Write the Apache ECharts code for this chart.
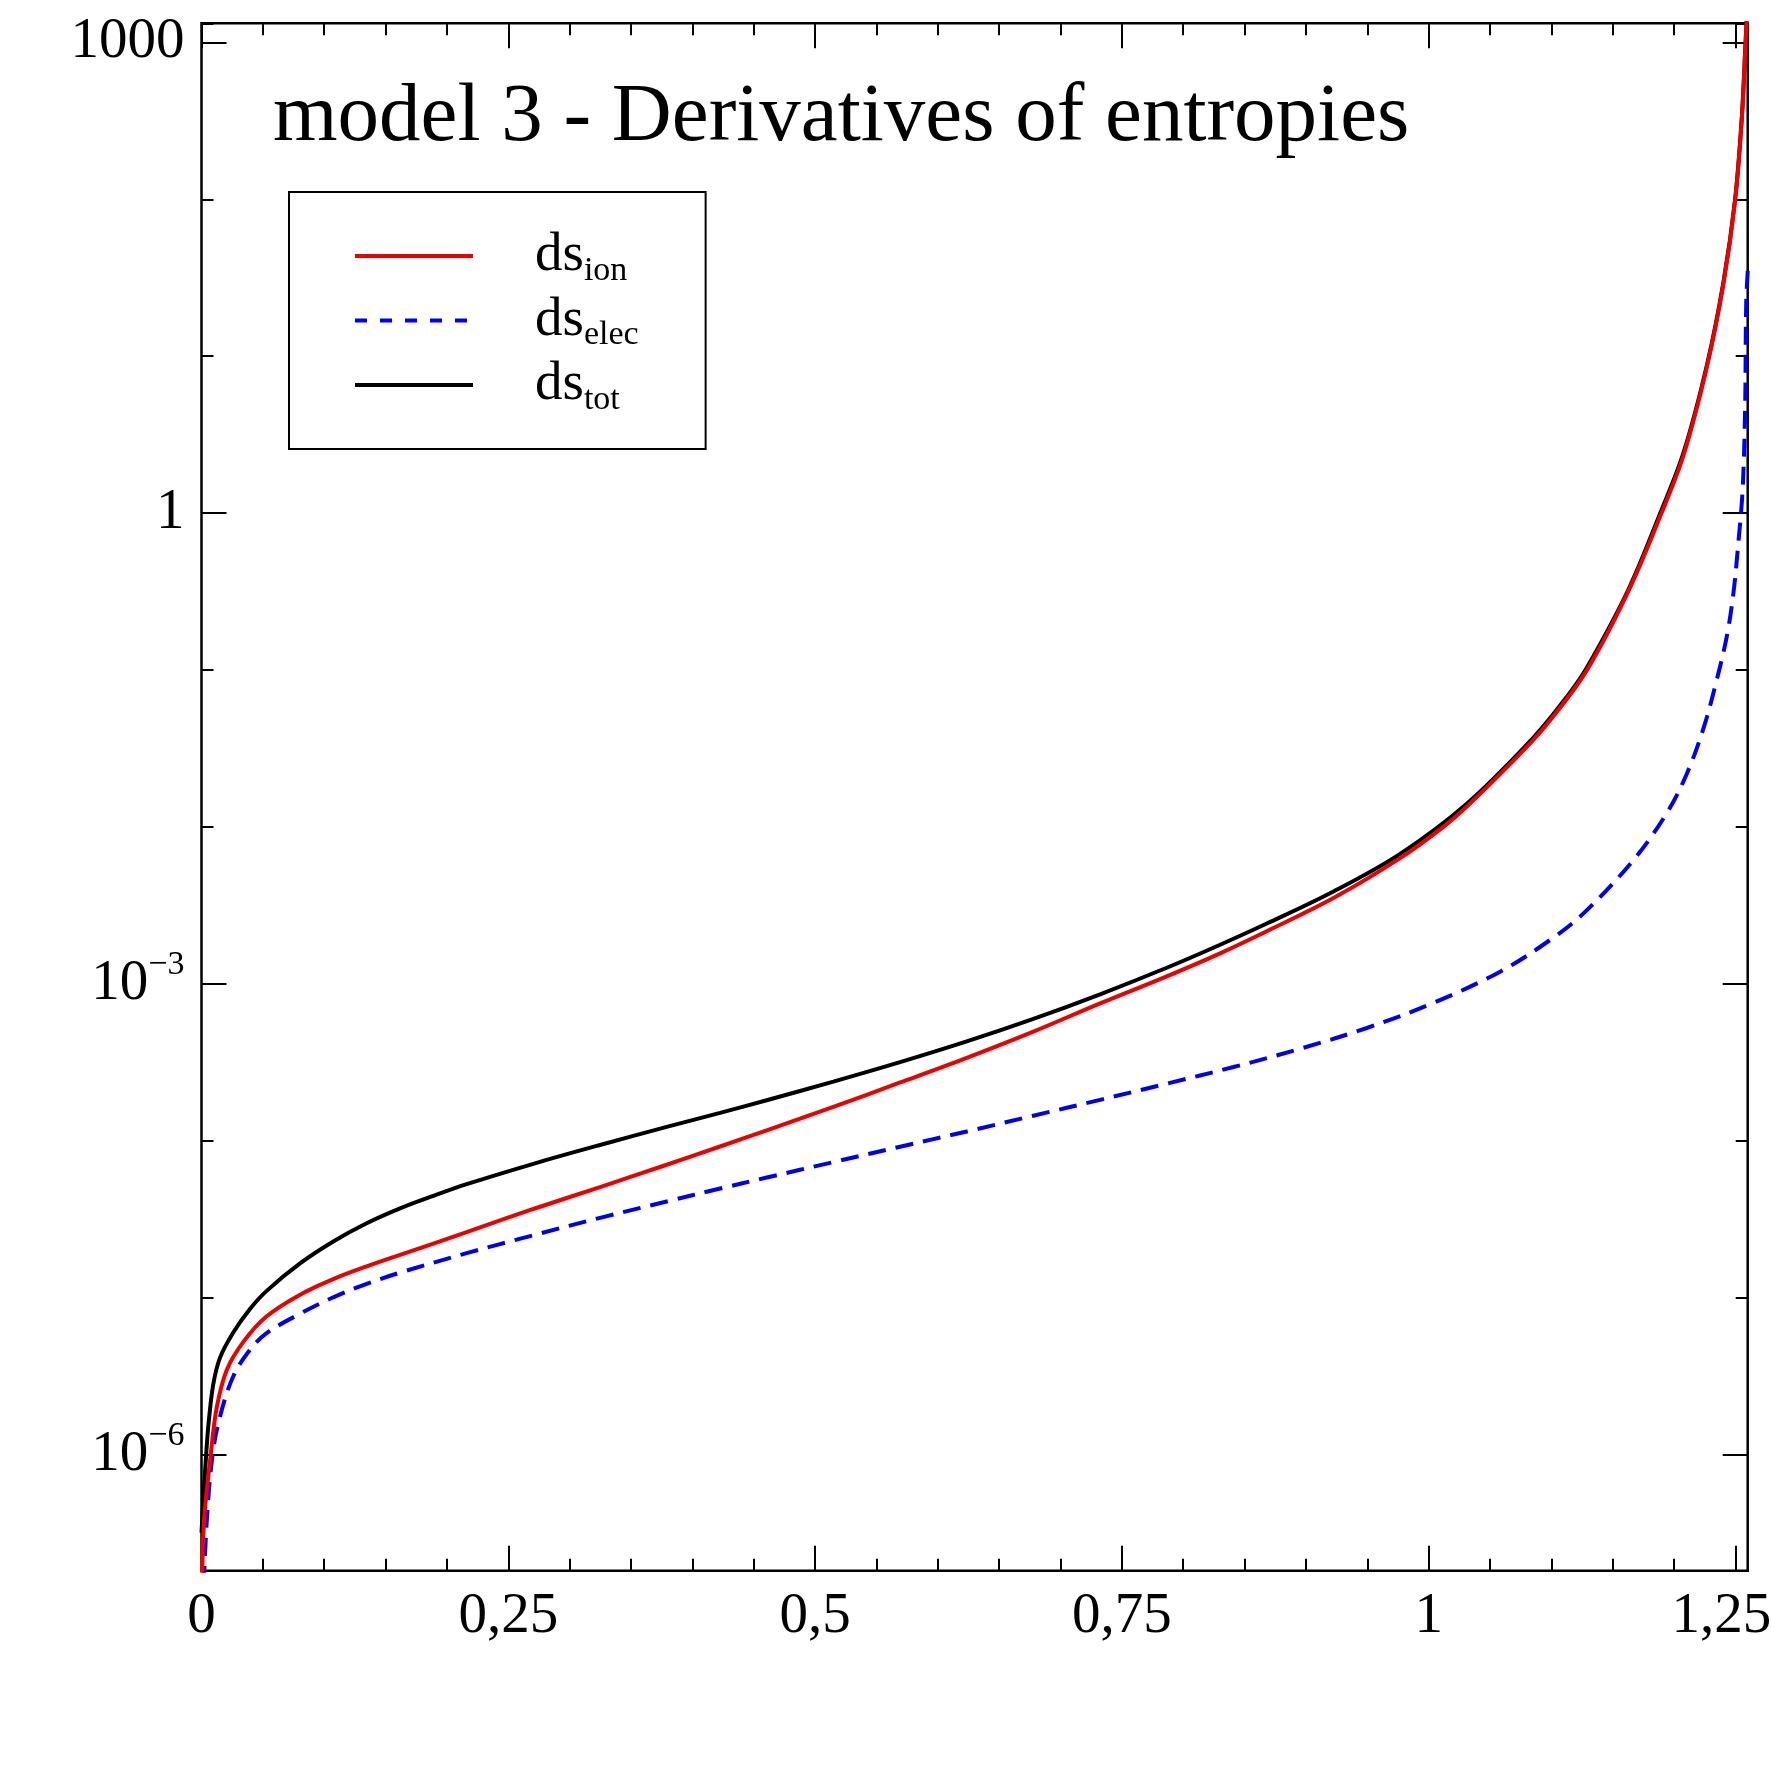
<!DOCTYPE html>
<html>
<head>
<meta charset="utf-8">
<script src="https://cdn.jsdelivr.net/npm/echarts@6/dist/echarts.min.js"></script>
<style>
html,body{margin:0;padding:0;background:#fff;}
#chart{width:1771px;height:1771px;}
</style>
</head>
<body>
<div id="chart"></div>
<script>
// ---- data ----
const xIon = [0.0003,0.002,0.0075,0.0124,0.0205,0.0341,0.0531,0.0803,0.1074,0.1346,0.1618,0.2161,0.2704,0.3248,0.3791,0.4226,0.4606,0.5149,0.5693,0.6236,0.6779,0.7323,0.7866,0.8301,0.8681,0.9224,0.9768,1.0118,1.0311,1.0786,1.1,1.129,1.1626,1.1887,1.2077,1.2268,1.2403,1.2498,1.2553,1.258,1.2594,1.2605];
const ion = [1.26e-7,3.7e-7,1.0e-6,2.0e-6,3.47e-6,5.25e-6,7.64e-6,1.05e-5,1.32e-5,1.59e-5,1.88e-5,2.63e-5,3.69e-5,5.09e-5,7.06e-5,9.23e-5,1.17e-4,1.65e-4,2.36e-4,3.39e-4,4.98e-4,7.53e-4,1.12e-3,1.57e-3,2.17e-3,3.53e-3,6.34e-3,0.0100,0.0135,0.0316,0.0490,0.100,0.316,0.955,2.34,8.59,29.2,99.1,336,893,1580,4500];

const xElec = [0.001,0.0042,0.009,0.0151,0.0259,0.0395,0.0531,0.0803,0.1074,0.1346,0.1618,0.2161,0.2704,0.3248,0.3791,0.4226,0.4606,0.5149,0.5693,0.6236,0.6779,0.7323,0.7866,0.8409,0.8953,0.9496,1.0039,1.0583,1.099,1.1262,1.1669,1.1941,1.2104,1.224,1.2342,1.2431,1.2485,1.2526,1.2553,1.2567,1.258,1.2588,1.2605];
const elec = [1.0e-7,3.7e-7,1.0e-6,1.76e-6,3.17e-6,4.68e-6,5.98e-6,7.94e-6,1.01e-5,1.23e-5,1.45e-5,1.93e-5,2.51e-5,3.24e-5,4.12e-5,4.98e-5,5.85e-5,7.34e-5,9.2e-5,1.15e-4,1.45e-4,1.83e-4,2.32e-4,2.96e-4,3.87e-4,5.25e-4,7.59e-4,1.20e-3,1.91e-3,2.82e-3,6.17e-3,0.0123,0.0219,0.0427,0.0832,0.166,0.316,0.676,1.20,2.0,5.25,21.9,40];

const xTot = [0,0.0015,0.0042,0.006,0.0096,0.0151,0.0259,0.0395,0.0531,0.0803,0.1074,0.1346,0.1618,0.1889,0.2161,0.2704,0.3248,0.3791,0.4226,0.4606,0.5149,0.5693,0.6236,0.6779,0.7323,0.7866,0.8301,0.8681,0.9224,0.9768,1.0311,1.0854,1.1126,1.129,1.1626,1.1887,1.2077,1.2268,1.2403,1.2498,1.2553,1.258,1.2594,1.2605];
const tot = [3.2e-7,5.2e-7,1.12e-6,1.66e-6,2.82e-6,4.17e-6,6.03e-6,8.51e-6,1.11e-5,1.66e-5,2.29e-5,2.99e-5,3.72e-5,4.47e-5,5.31e-5,7.16e-5,9.44e-5,1.23e-4,1.51e-4,1.82e-4,2.39e-4,3.18e-4,4.31e-4,6.0e-4,8.61e-4,1.27e-3,1.78e-3,2.43e-3,3.89e-3,6.76e-3,0.0141,0.0372,0.0676,0.104,0.324,1.0,2.43,8.81,29.9,101,343,912,1620,4600];

const seriesKeys = ['ion','elec','tot'];
const xMajorTicks = [0,0.25,0.5,0.75,1,1.25];
const xMinorTicks = [0.05,0.1,0.15,0.2,0.3,0.35,0.4,0.45,0.55,0.6,0.65,0.7,0.8,0.85,0.9,0.95,1.05,1.1,1.15,1.2];
const yLabelExps = [-6,-3,0,3];
const xMin = 0, xMax = 1.26;
const yMin = 1.83e-7, yMax = 1322;
const titleText = 'model 3 - Derivatives of entropies';

// ---- styling ----
const FONT = "'Liberation Serif','Times New Roman',serif";
const RED = '#ee0000', BLUE = '#0000ee', BLACK = '#000000';
const tickStyle = {color:'#000', width:2};

function pairs(xs, ys){ return xs.map((x,i)=>[x, ys[i]]); }

function yLabel(v){
  const l = Math.log10(v);
  const e = Math.round(l);
  if (Math.abs(l-e) > 1e-6 || yLabelExps.indexOf(e) < 0) return '';
  if (e >= 0) return '{b|' + Math.pow(10,e) + '}';
  return '{b|10}{s|\u2212' + (-e) + '}';
}
function xLabel(v){
  const t = String(v).replace('.', ',');
  return v === 1.25 ? '{r|' + t + '}' : '{b|' + t + '}';
}

const labelRichY = {
  b:{fontFamily:FONT,fontSize:57,lineHeight:57,color:'#000'},
  s:{fontFamily:FONT,fontSize:34,lineHeight:34,color:'#000',padding:[0,0,37,0]}
};
const labelRichX = {
  b:{fontFamily:FONT,fontSize:57,lineHeight:57,color:'#000'},
  r:{fontFamily:FONT,fontSize:57,lineHeight:57,color:'#000',padding:[0,28,0,0]}
};

function xAx(pos, ticks, len, labels){
  return {
    type:'value', min:xMin, max:xMax, position:pos,
    axisLine:{show:false, onZero:false}, splitLine:{show:false},
    axisTick:{show:true, inside:true, length:len, customValues:ticks, lineStyle:tickStyle},
    axisLabel: labels ? {show:true, customValues:xMajorTicks, formatter:xLabel, margin:18, rich:labelRichX, fontFamily:FONT, fontSize:57, color:'#000'} : {show:false}
  };
}
function yLog(pos, labels){
  return {
    type:'log', logBase:10, min:yMin, max:yMax, position:pos, splitNumber:10,
    axisLine:{show:false, onZero:false}, splitLine:{show:false}, minorTick:{show:false},
    axisTick:{show:true, inside:true, length:12, lineStyle:tickStyle},
    axisLabel: labels ? {show:true, formatter:yLabel, margin:17, rich:labelRichY, fontFamily:FONT, fontSize:57, color:'#000'} : {show:false}
  };
}
function yMajor(pos){
  return {
    type:'value', min:Math.log10(yMin), max:Math.log10(yMax), position:pos,
    axisLine:{show:false, onZero:false}, splitLine:{show:false}, axisLabel:{show:false},
    axisTick:{show:true, inside:true, length:25, customValues:yLabelExps, lineStyle:tickStyle}
  };
}

const chart = echarts.init(document.getElementById('chart'), null, {renderer:'canvas'});
const lineBase = {type:'line', symbol:'none', smooth:0.35, xAxisIndex:0, yAxisIndex:0, clip:true, animation:false};

chart.setOption({
  animation:false,
  backgroundColor:'#fff',
  title:{text:titleText, left:273, top:77, padding:0,
    textStyle:{fontFamily:FONT, fontSize:83, lineHeight:83, fontWeight:'normal', color:'#000'}},
  grid:{left:201.5, right:23.3, top:23.3, bottom:200.3, show:true, borderColor:'#000', borderWidth:2.5,
    backgroundColor:'transparent', containLabel:false, outerBoundsMode:'none'},
  legend:{
    data:[{name:'ion'},{name:'elec', lineStyle:{type:[12,13]}},{name:'tot'}],
    orient:'vertical', left:289, top:192, padding:[32,67,32,64], itemGap:0.5,
    itemWidth:118, itemHeight:20, backgroundColor:'#fff', borderColor:'#000', borderWidth:2,
    selectedMode:false, lineStyle:{width:4}, itemStyle:{opacity:0},
    formatter:function(name){ return '{d|ds}{s|' + name + '}'; },
    textStyle:{fontFamily:FONT, fontSize:55, color:'#000', padding:[0,0,0,57],
      rich:{
        d:{fontFamily:FONT,fontSize:55,lineHeight:56,color:'#000'},
        s:{fontFamily:FONT,fontSize:34,lineHeight:34,color:'#000',padding:[30,0,0,0]}
      }}
  },
  xAxis:[ xAx('bottom', xMajorTicks, 25, true), xAx('bottom', xMinorTicks, 12, false),
          xAx('top', xMajorTicks, 25, false), xAx('top', xMinorTicks, 12, false) ],
  yAxis:[ yLog('left', true), yMajor('left'), yLog('right', false), yMajor('right') ],
  series:[
    Object.assign({}, lineBase, {name:'tot', data:pairs(xTot, tot), z:2,
      lineStyle:{color:BLACK, width:4}, itemStyle:{color:BLACK}}),
    Object.assign({}, lineBase, {name:'elec', data:pairs(xElec, elec), z:3,
      lineStyle:{color:BLUE, width:4, type:[18,10]}, itemStyle:{color:BLUE}}),
    Object.assign({}, lineBase, {name:'ion', data:pairs(xIon, ion), z:4,
      lineStyle:{color:RED, width:4}, itemStyle:{color:RED}})
  ]
});
</script>
</body>
</html>
